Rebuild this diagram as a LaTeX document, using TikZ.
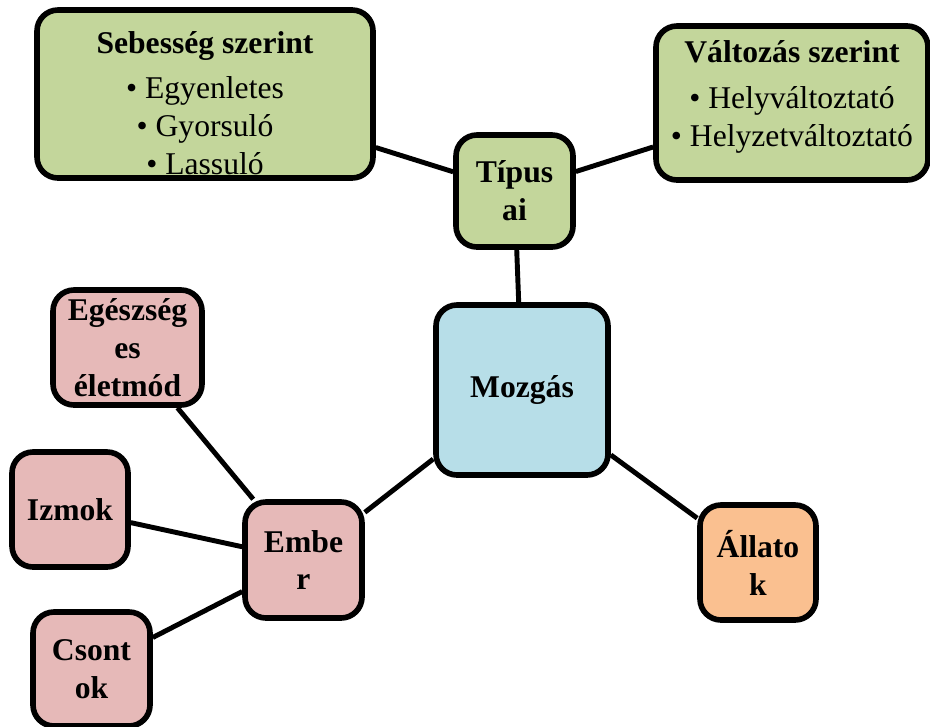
\documentclass[tikz,border=0pt]{standalone}
\usepackage{fontspec}
\setmainfont{Liberation Serif}
\usetikzlibrary{positioning,backgrounds}
\definecolor{zold}{HTML}{C3D69B}
\definecolor{rozsa}{HTML}{E6B9B8}
\definecolor{kek}{HTML}{B7DEE8}
\definecolor{narancs}{HTML}{FAC090}
\begin{document}
\begin{tikzpicture}[
    doboz/.style={draw, line width=3.2pt, rounded corners=0.42cm, align=center,
      font=\fontsize{18}{21.6}\selectfont\bfseries, inner sep=1pt},
    szoveg/.style={anchor=north, align=center, inner sep=0pt,
      font=\fontsize{18}{21.6}\selectfont},
    kapcs/.style={line width=2.8pt}]
  \useasboundingbox (0,0) rectangle (18.6,-14.52);
  % felso sor
  \node [doboz, fill=zold, minimum width=6.72cm, minimum height=3.36cm] (seb) at (4.1,-1.88) {};
  \node [szoveg] (sebtxt) at ([yshift=-0.48cm]seb.north)
    {\textbf{Sebesség szerint}\\[4pt] \textbullet\ Egyenletes\\ \textbullet\ Gyorsuló\\ \textbullet\ Lassuló};
  \node [doboz, fill=zold, minimum width=5.44cm, minimum height=3.08cm] (valt) at (15.84,-2.06) {};
  \node [szoveg] (valttxt) at ([yshift=-0.33cm]valt.north)
    {\textbf{Változás szerint}\\[5pt] \textbullet\ Helyváltoztató\\ \textbullet\ Helyzetváltoztató};
  \node [doboz, fill=zold, minimum width=2.34cm, minimum height=2.24cm] (tipus) at (10.29,-3.82) {Típus\\ai};
  % kozep
  \node [doboz, fill=kek, minimum width=3.44cm, minimum height=3.4cm] (mozgas) at (10.44,-7.8) {Mozgás};
  \node [doboz, fill=narancs, minimum width=2.32cm, minimum height=2.3cm] (allat) at (15.16,-11.25) {Állato\\k};
  % ember ag
  \node [doboz, fill=rozsa, minimum width=2.34cm, minimum height=2.32cm] (ember) at (6.07,-11.2) {Embe\\r};
  \node [doboz, fill=rozsa, minimum width=2.98cm, minimum height=2.3cm] (egesz) at (2.55,-6.95) {Egészség\\es\\életmód};
  \node [doboz, fill=rozsa, minimum width=2.32cm, minimum height=2.3cm] (izom) at (1.4,-10.19) {Izmok};
  \node [doboz, fill=rozsa, minimum width=2.34cm, minimum height=2.28cm] (csont) at (1.83,-13.38) {Csont\\ok};
  \begin{scope}[on background layer]
    \draw [kapcs] (seb) -- (tipus);
    \draw [kapcs] (valt) -- (tipus);
    \draw [kapcs] (tipus) -- (mozgas);
    \draw [kapcs] (mozgas) -- (ember);
    \draw [kapcs] (mozgas) -- (allat);
    \draw [kapcs] (egesz) -- (ember);
    \draw [kapcs] (izom) -- (ember);
    \draw [kapcs] (csont) -- (ember);
  \end{scope}
\end{tikzpicture}
\end{document}
